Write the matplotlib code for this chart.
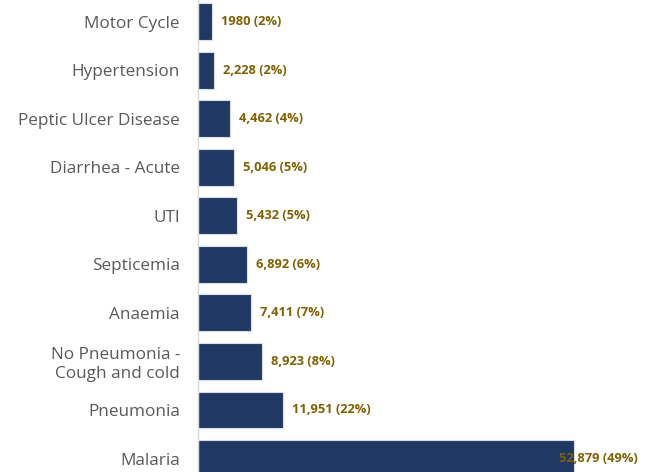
import matplotlib
matplotlib.use("Agg")
import matplotlib.pyplot as plt

categories = ["Motor Cycle", "Hypertension", "Peptic Ulcer Disease", "Diarrhea - Acute",
              "UTI", "Septicemia", "Anaemia", "No Pneumonia -\nCough and cold",
              "Pneumonia", "Malaria"]
values = [1980, 2228, 4462, 5046, 5432, 6892, 7411, 8923, 11951, 52879]
value_text = ["1980", "2,228", "4,462", "5,046", "5,432", "6,892", "7,411", "8,923",
              "11,951", "52,879"]
percents = ["2%", "2%", "4%", "5%", "5%", "6%", "7%", "8%", "22%", "49%"]

bar_color = "#203864"
label_color = "#806000"
text_color = "#595959"

fig = plt.figure(figsize=(6.5, 4.72), dpi=100)
ax = fig.add_axes([198 / 650, 0, 452 / 650, 1])

pos = list(range(len(categories)))
ax.barh(pos, values, height=0.76, color=bar_color, edgecolor="#D9DEE8", linewidth=0.8)

ax.set_ylim(9.277, -0.443)
ax.set_xlim(0, 63510)

ax.set_yticks(pos)
ax.set_yticklabels(categories, fontsize=12.3, color=text_color, family="Open Sans")
ax.tick_params(axis="y", length=0, pad=13)
ax.set_xticks([])

for s in ["top", "right", "bottom"]:
    ax.spines[s].set_visible(False)
ax.spines["left"].set_color("#D9D9D9")
ax.spines["left"].set_linewidth(1)

for i, (v, t, p) in enumerate(zip(values, value_text, percents)):
    off = -11 if i == len(values) - 1 else 6.5
    ax.annotate(f"{t} ({p})", xy=(v, i), xytext=(off, 0), textcoords="offset points",
                ha="left", va="center", fontsize=9.3, fontweight="bold",
                color=label_color, family="Open Sans", zorder=5)

fig.savefig("out.png", dpi=100)
